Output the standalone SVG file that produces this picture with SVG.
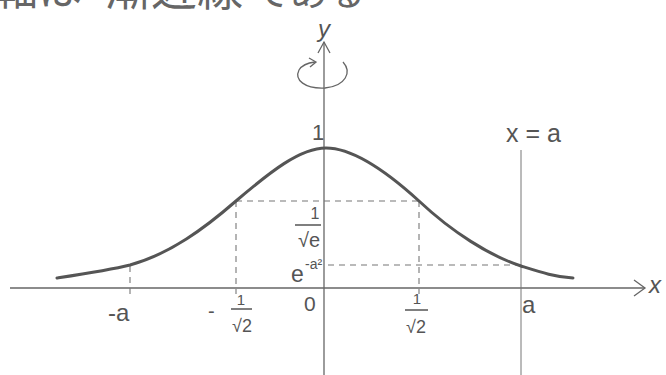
<svg xmlns="http://www.w3.org/2000/svg" width="666" height="375" viewBox="0 0 666 375">
<style>
.t{font-family:"Liberation Sans","DejaVu Sans",sans-serif;fill:#555}
.jp{font-family:"Noto Sans CJK JP","Noto Sans",sans-serif;fill:#666}
.ax{stroke:#666;stroke-width:1.3;fill:none}
.dash{stroke:#777;stroke-width:1.1;stroke-dasharray:6 5;fill:none}
.curve{stroke:#555;stroke-width:3;fill:none;stroke-linecap:round}
.bar{stroke:#555;stroke-width:1.5}
</style>
<rect width="666" height="375" fill="#fff"/>
<g id="header">
<text class="jp" x="-6" y="5" font-size="44">軸は</text>
<text class="jp" x="105" y="5" font-size="46">漸近線</text>
<text class="jp" x="252" y="5" font-size="38">である</text>
</g>
<g id="connectors">
<line class="ax" x1="10" y1="288" x2="645" y2="288"/>
<polyline class="ax" points="634,280 645,288 634,296"/>
<line class="ax" x1="324" y1="375" x2="324" y2="42"/>
<polyline class="ax" points="318,53 324,42 330,53"/>
<line x1="521" y1="150" x2="521" y2="375" stroke="#777" stroke-width="1"/>
<path class="dash" d="M236,201 V294 M419,201 V294 M130,266 V294 M236,201 H419 M328,265 H521"/>
<path class="ax" d="M343,62 C352,72 346,86 325,88 C305,89 294,80 299,70 C302,65 307,63 315,62"/>
<polyline class="ax" points="309,58 316,62 310,67"/>
</g>
<g id="curve">
<path class="curve" d="M57,278 C90,273 110,270 130,265 C170,254 205,228 236,201 C270,172 300,148 326,148 C352,148 385,170 419,201 C452,232 490,256 521,266 C540,272 555,277 573,278"/>
</g>
<g id="labels">
<text class="t" x="324" y="37" font-size="24" text-anchor="middle" font-style="italic">y</text>
<text class="t" x="649" y="293" font-size="24" font-style="italic">x</text>
<text class="t" x="312" y="140" font-size="22">1</text>
<text class="t" x="506" y="142" font-size="25">x = a</text>
<text class="t" x="315" y="219" font-size="16" text-anchor="middle">1</text>
<line class="bar" x1="295" y1="225" x2="321" y2="225"/>
<text class="t" x="309" y="247" font-size="20" text-anchor="middle">√e</text>
<text class="t" x="291" y="282" font-size="23">e</text>
<text class="t" x="305" y="269" font-size="14">-a²</text>
<text class="t" x="304" y="311" font-size="21">0</text>
<text class="t" x="108" y="321" font-size="24">-a</text>
<text class="t" x="208" y="318" font-size="20">-</text>
<text class="t" x="241" y="305" font-size="15" text-anchor="middle">1</text>
<line class="bar" x1="231" y1="309" x2="252" y2="309"/>
<text class="t" x="242" y="332" font-size="18" text-anchor="middle">√2</text>
<text class="t" x="417" y="304" font-size="15" text-anchor="middle">1</text>
<line class="bar" x1="405" y1="310" x2="428" y2="310"/>
<text class="t" x="416" y="333" font-size="18" text-anchor="middle">√2</text>
<text class="t" x="522" y="313" font-size="24">a</text>
</g>
</svg>
